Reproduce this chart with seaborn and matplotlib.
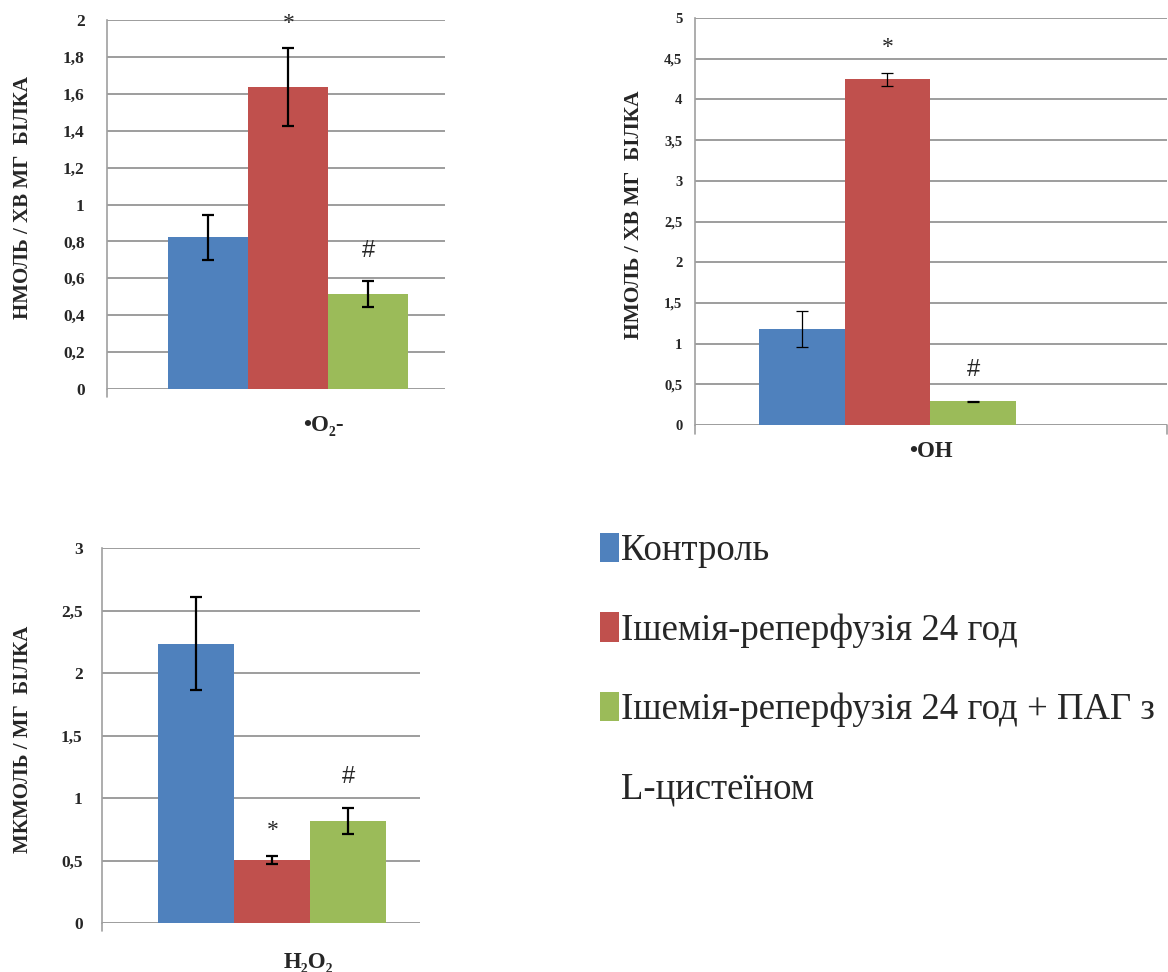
import numpy as np
import pandas as pd
import matplotlib
matplotlib.use("Agg")
import matplotlib.pyplot as plt
from matplotlib.patches import Patch
from matplotlib.ticker import FuncFormatter, MultipleLocator
import seaborn as sns

# groups (legend)
groups = ["Контроль", "Ішемія-реперфузія 24 год", "Ішемія-реперфузія 24 год + ПАГ з"]
groups_extra = "L-цистеїном"
colors = ["#4F81BD", "#C0504D", "#9BBB59"]

# superoxide
o2_mean = [0.823, 1.637, 0.514]
o2_err = [0.122, 0.209, 0.07]
o2_marks = ["", "*", "#"]

# hydroxyl radical
oh_mean = [1.181, 4.249, 0.29]
oh_err = [0.217, 0.08, 0.01]
oh_marks = ["", "*", "#"]

# hydrogen peroxide
h2o2_mean = [2.235, 0.505, 0.819]
h2o2_err = [0.372, 0.033, 0.104]
h2o2_marks = ["", "*", "#"]

sns.set_style("white")
plt.rcParams["font.family"] = ["Liberation Serif", "DejaVu Serif"]

grid_col = "#8c8c8c"
fig = plt.figure(figsize=(11.68, 9.72), dpi=100)


def comma_fmt(v, pos):
    return f"{v:g}".replace(".", ",")


def panel(rect, name, means, errs, marks, ymax, step, xlim, ylabel, ylab_xy,
          name_xy, tick_fs, lab_fs, elw, pad, right_tick=False):
    ax = fig.add_axes(rect)
    df = pd.DataFrame({"panel": name, "group": groups, "value": means})
    sns.barplot(data=df, x="panel", y="value", hue="group", hue_order=groups,
                palette=colors, saturation=1, errorbar=None, width=0.8,
                legend=False, ax=ax, linewidth=0)
    # error bars at the bar centres
    xs = [c.patches[0].get_x() + c.patches[0].get_width() / 2 for c in ax.containers]
    ax.errorbar(xs, means, yerr=errs, fmt="none", ecolor="black",
                elinewidth=elw, capsize=4, capthick=elw, zorder=5)
    # significance marks
    for x, m, e, s in zip(xs, means, errs, marks):
        if not s:
            continue
        fam = ["Liberation Serif"] if s == "*" else ["Liberation Sans"]
        off = 18 if s == "*" else 22
        ax.annotate(s, (x, m + e), xytext=(0, off), textcoords="offset points",
                    ha="center", va="center", fontsize=17, family=fam)
    ax.set_ylim(0, ymax)
    ax.set_xlim(*xlim)
    ax.yaxis.set_major_locator(MultipleLocator(step))
    ax.yaxis.set_major_formatter(FuncFormatter(comma_fmt))
    ax.yaxis.grid(True, color=grid_col, lw=1.2)
    ax.set_axisbelow(True)
    ax.set_xticks([])
    ax.set_xlabel("")
    for s in ["top", "right", "bottom"]:
        ax.spines[s].set_visible(False)
    ax.spines["left"].set_color("#a0a0a0")
    ax.spines["left"].set_linewidth(1.2)
    ax.tick_params(axis="y", direction="out", length=6, width=1, color=grid_col,
                   labelsize=tick_fs, pad=pad)
    for t in ax.get_yticklabels():
        t.set_fontweight("bold")
    # left axis line runs a little below zero
    ax.plot([0, 0], [-0.022, 0], transform=ax.transAxes, color="#a0a0a0",
            lw=1.2, clip_on=False)
    if right_tick:
        ax.plot([1, 1], [-0.022, 0], transform=ax.transAxes, color="#a0a0a0",
                lw=1.2, clip_on=False)
    ax.set_ylabel(ylabel, fontsize=lab_fs, fontweight="bold")
    ax.yaxis.set_label_coords(*ylab_xy)
    ax.text(name_xy[0], name_xy[1], name, transform=ax.transAxes, ha="center",
            va="center", fontsize=16.5, fontweight="bold",
            family=["Liberation Serif", "DejaVu Serif"])
    return ax


ax1 = panel([0.0916, 0.5998, 0.2894, 0.3796], "•O₂-", o2_mean, o2_err, o2_marks,
            2, 0.2, (-0.605, 0.522), "НМОЛЬ / ХВ МГ  БІЛКА", (-0.218, 0.52),
            (0.64, -0.098), 12.5, 15, 1.6, 10)
ax2 = panel([0.595, 0.5627, 0.4041, 0.4187], "•OH", oh_mean, oh_err, oh_marks,
            5, 0.5, (-0.598, 0.868), "НМОЛЬ / ХВ МГ  БІЛКА", (-0.108, 0.516),
            (0.5, -0.066), 10.5, 15.5, 0.9, 3, right_tick=True)
ax3 = panel([0.0873, 0.0504, 0.2723, 0.3858], "H₂O₂", h2o2_mean, h2o2_err, h2o2_marks,
            3, 0.5, (-0.598, 0.518), "МКМОЛЬ / МГ  БІЛКА", (-0.217, 0.49),
            (0.65, -0.104), 12.5, 15, 1.6, 8)

handles = list(ax1.containers[:3]) + [Patch(facecolor="none", edgecolor="none")]
labels = groups + [groups_extra]
fig.legend(handles, labels, loc="upper left", bbox_to_anchor=(0.514, 0.452),
           frameon=False, fontsize=26.5, handlelength=0.5, handleheight=0.85,
           handletextpad=0.05, labelspacing=1.2, borderpad=0, borderaxespad=0)

fig.savefig("out.png", dpi=100)
